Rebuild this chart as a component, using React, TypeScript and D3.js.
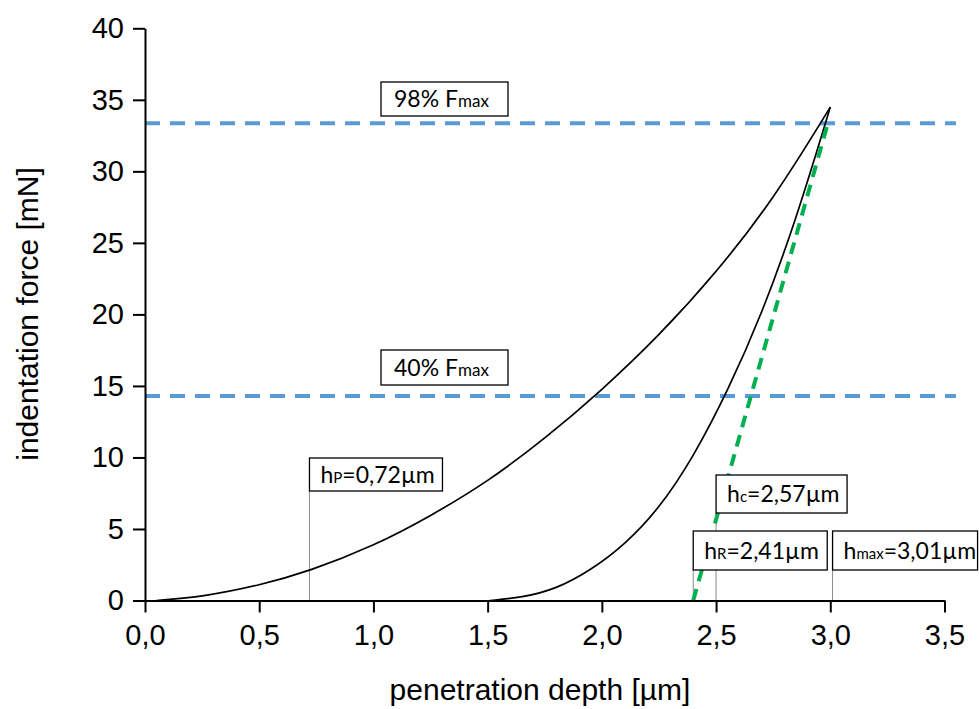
import React, { useEffect, useRef } from 'react';
import * as d3 from 'd3';

// loading branch
const loadDepth = [0.05, 0.25, 0.5, 0.72, 1.0, 1.25, 1.5, 1.75, 2.0, 2.25, 2.5, 2.75, 3.0];
const loadForce = [0, 0.25, 1.05, 2.05, 3.8, 5.9, 8.3, 11.3, 14.7, 18.5, 22.9, 28.0, 34.49];

// unloading branch
const unloadDepth = [1.51, 1.65, 1.8, 1.95, 2.1, 2.25, 2.4, 2.55, 2.7, 2.85, 3.0];
const unloadForce = [0, 0.2, 0.8, 2.1, 3.9, 6.4, 10.0, 14.6, 20.0, 26.6, 34.49];

// tangent to the unloading curve
const tangentDepth = [2.4, 2.99];
const tangentForce = [0, 33.4];

// reference force levels
const levelLabel = ['98% F', '40% F'];
const levelForce = [33.37, 14.3];

// marked depths
const markDepth = [0.72, 2.5, 2.4, 3.01];
const markSub = ['P', 'c', 'R', 'max'];
const markText = ['=0,72µm', '=2,57µm', '=2,41µm', '=3,01µm'];

const depthTicks = [0, 0.5, 1, 1.5, 2, 2.5, 3, 3.5];
const depthMinor = [0.25, 0.75, 1.25, 1.75, 2.25, 2.75, 3.25];
const forceTicks = [0, 5, 10, 15, 20, 25, 30, 35, 40];
const forceMinor = [2.5, 7.5, 12.5, 17.5, 22.5, 27.5, 32.5, 37.5];

const W = 979;
const H = 709;
const AXIS_FONT = '"Liberation Sans", Arial, sans-serif';
const LABEL_FONT = 'Lato, "Open Sans", sans-serif';

export default function App() {
  const ref = useRef<SVGGElement>(null);

  const x = d3.scaleLinear().domain([0, 3.5]).range([145, 944.5]);
  const y = d3.scaleLinear().domain([0, 40]).range([600.5, 28.3]);

  useEffect(() => {
    const g = d3.select(ref.current);
    g.selectAll('*').remove();

    const fmt = (d: number) => d.toFixed(1).replace('.', ',');

    // x axis
    const xg = g.append('g').attr('transform', `translate(0,${y(0)})`);
    xg.call(d3.axisBottom(x).tickValues(depthMinor).tickSize(7).tickSizeOuter(0).tickFormat(() => ''));
    xg.call(d3.axisBottom(x).tickValues(depthTicks).tickSize(12).tickSizeOuter(0).tickPadding(12).tickFormat(fmt as any));

    // y axis
    const yg = g.append('g').attr('transform', `translate(${x(0)},0)`);
    yg.call(d3.axisLeft(y).tickValues(forceMinor).tickSize(7).tickSizeOuter(0).tickFormat(() => ''));
    yg.call(d3.axisLeft(y).tickValues(forceTicks).tickSize(12).tickSizeOuter(0).tickPadding(9).tickFormat(d3.format('d') as any));

    g.selectAll('.domain').attr('stroke', '#000').attr('stroke-width', 2);
    g.selectAll('.tick line').attr('stroke', '#000').attr('stroke-width', 2);
    g.selectAll('.tick text')
      .attr('fill', '#000')
      .style('font-family', AXIS_FONT)
      .style('font-size', '29px');
  }, []);

  const line = d3.line<number>().curve(d3.curveBasis);
  const loadPath = line(loadDepth.map((d, i) => [x(d), y(loadForce[i])]) as any);
  const unloadPath = line(unloadDepth.map((d, i) => [x(d), y(unloadForce[i])]) as any);

  const levelBoxes = [
    { left: 381, top: 82, w: 127, h: 34 },
    { left: 381, top: 350, w: 127, h: 35 },
  ];
  const markBoxes = [
    { top: 458, w: 133, h: 33 },
    { top: 475, w: 131, h: 38 },
    { top: 531, w: 134, h: 39 },
    { top: 531, w: 145, h: 39 },
  ];

  return (
    <svg
      width={W}
      height={H}
      style={{ position: 'absolute', left: 0, top: 0, background: '#fff' }}
    >
      {/* reference levels */}
      {levelForce.map((f, i) => (
        <line
          key={'lv' + i}
          x1={x(0)}
          x2={x(3.55)}
          y1={y(f)}
          y2={y(f)}
          stroke="#5b9bd5"
          strokeWidth={4}
          strokeDasharray="15 10"
        />
      ))}

      {/* leader lines */}
      {markDepth.map((d, i) => (
        <line
          key={'ld' + i}
          x1={x(d)}
          x2={x(d)}
          y1={markBoxes[i].top + markBoxes[i].h}
          y2={y(0)}
          stroke="#8a8a8a"
          strokeWidth={1}
        />
      ))}

      <path d={loadPath || ''} fill="none" stroke="#000" strokeWidth={1.7} />
      <path d={unloadPath || ''} fill="none" stroke="#000" strokeWidth={1.7} />

      <line
        x1={x(tangentDepth[0])}
        y1={y(tangentForce[0])}
        x2={x(tangentDepth[1])}
        y2={y(tangentForce[1])}
        stroke="#00b050"
        strokeWidth={4}
        strokeDasharray="12 8"
      />

      <g ref={ref} />

      {/* level labels */}
      {levelLabel.map((t, i) => {
        const b = levelBoxes[i];
        return (
          <g key={'lb' + i}>
            <rect x={b.left} y={b.top} width={b.w} height={b.h} fill="#fff" stroke="#000" strokeWidth={1.3} />
            <text
              x={b.left + 13}
              y={b.top + b.h / 2 + 8}
              fontFamily={LABEL_FONT}
              fontSize={23}
              fill="#000"
            >
              {t}
              <tspan fontSize={17}>max</tspan>
            </text>
          </g>
        );
      })}

      {/* depth labels */}
      {markDepth.map((d, i) => {
        const b = markBoxes[i];
        const left = x(d);
        return (
          <g key={'mb' + i}>
            <rect x={left} y={b.top} width={b.w} height={b.h} fill="#fff" stroke="#000" strokeWidth={1.3} />
            <text
              x={left + 11}
              y={b.top + b.h / 2 + 8}
              fontFamily={LABEL_FONT}
              fontSize={23}
              fill="#000"
            >
              h
              <tspan fontSize={15}>{markSub[i]}</tspan>
              {markText[i]}
            </text>
          </g>
        );
      })}

      {/* axis titles */}
      <text
        x={540}
        y={700}
        textAnchor="middle"
        fontFamily={AXIS_FONT}
        fontSize={30}
        fill="#000"
      >
        penetration depth [µm]
      </text>
      <text
        transform="translate(38,314) rotate(-90)"
        textAnchor="middle"
        fontFamily={AXIS_FONT}
        fontSize={30}
        fill="#000"
      >
        indentation force [mN]
      </text>
    </svg>
  );
}
